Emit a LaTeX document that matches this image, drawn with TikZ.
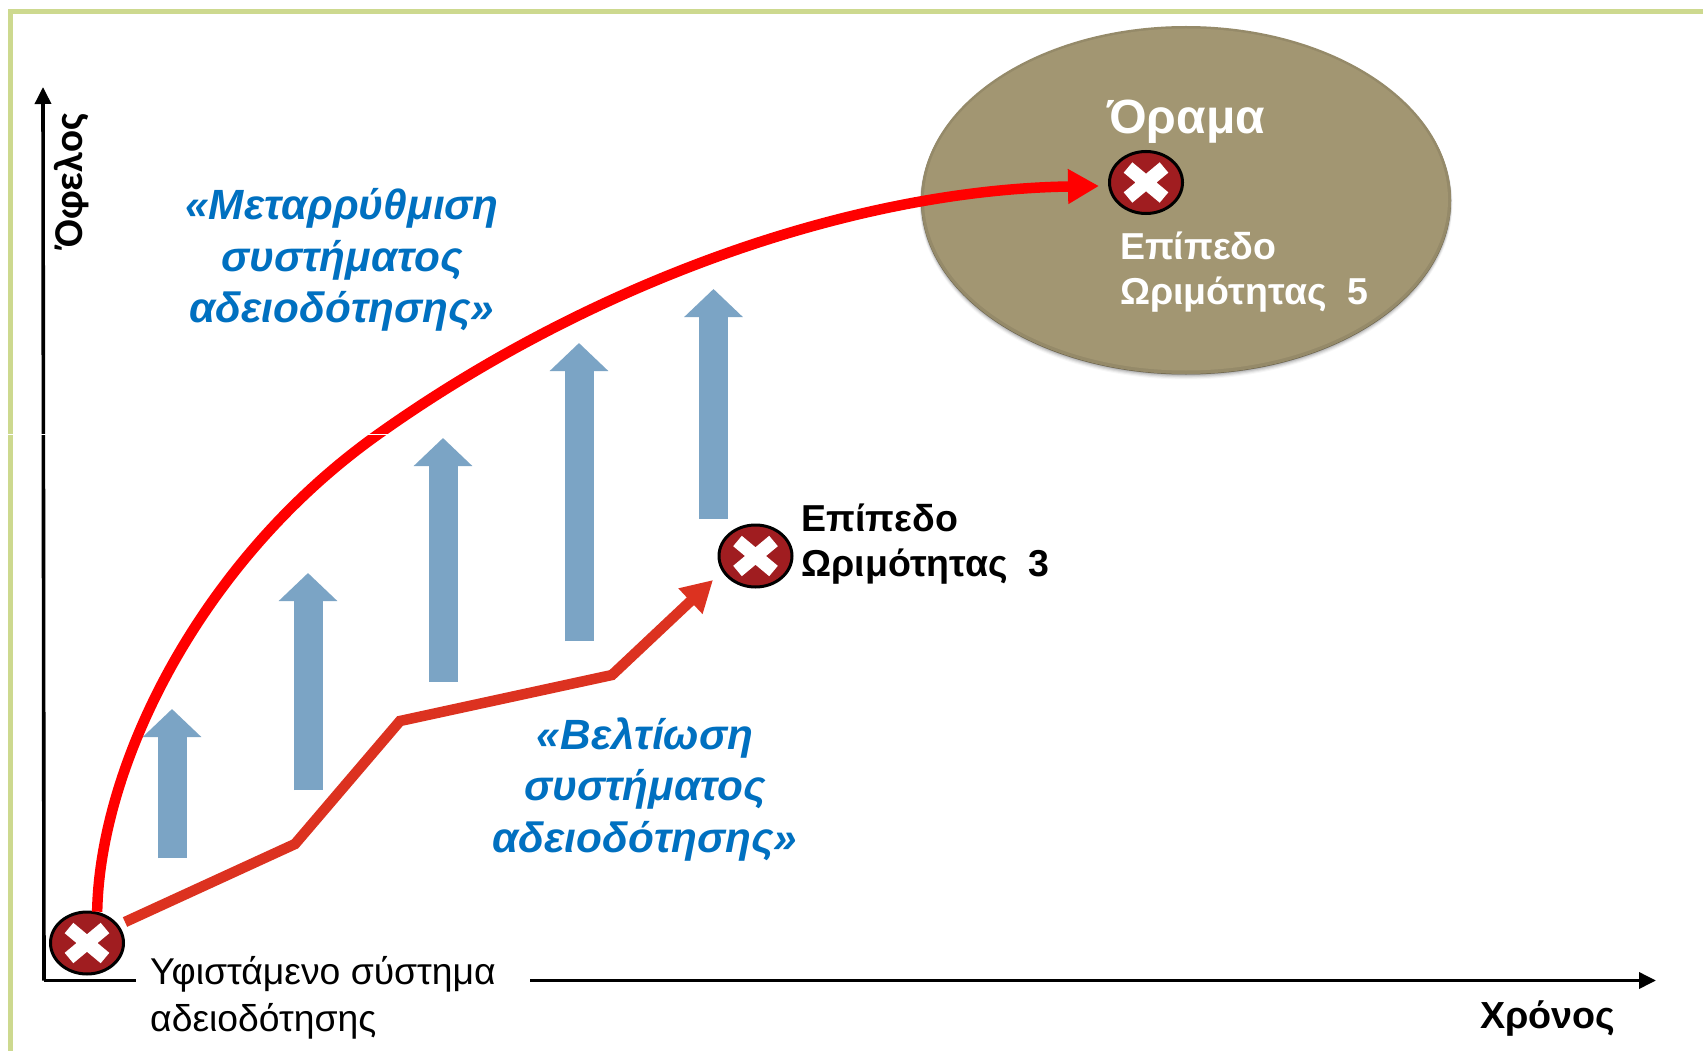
\documentclass[tikz,border=0pt]{standalone}
\usepackage{fontspec}
\setmainfont{Liberation Sans}
\newfontfamily\carlitofont{Carlito}
\usetikzlibrary{shapes.geometric,arrows.meta}
\definecolor{framegreen}{HTML}{CDD98F}
\definecolor{blockblue}{HTML}{7BA4C5}
\definecolor{textblue}{HTML}{0070C0}
\definecolor{curvered}{HTML}{FF0000}
\definecolor{lineorange}{HTML}{DC3220}
\definecolor{markred}{HTML}{A01D20}
\definecolor{visionfill}{HTML}{A29672}
\tikzset{
  x=1pt,y=-1pt,
  xmark/.style={ellipse,draw=black,line width=3pt,fill=markred,minimum width=73pt,minimum height=62pt,inner sep=0pt,
    path picture={
      \draw[white,line width=13.5pt,shift={(path picture bounding box.center)}] (-18,-15)--(18,15) (-18,15)--(18,-15);
    }},
  blockarrow/.style={blockblue,line width=29pt,-{Triangle[length=28pt,width=57pt]}},
  axisline/.style={black,line width=3.6pt},
  axishead/.style={-{Triangle[length=17pt,width=16pt]}},
  bluelabel/.style={text=textblue,align=center,inner sep=0pt,font=\bfseries\itshape\fontsize{42.3}{51.5}\selectfont},
  boldlabel/.style={align=left,inner sep=0pt,anchor=west,font=\bfseries\fontsize{37.5}{45.5}\selectfont},
  plainlabel/.style={align=left,inner sep=0pt,anchor=west,font=\fontsize{37.3}{47}\selectfont},
}
\begin{document}
\begin{tikzpicture}
\useasboundingbox (0,0) rectangle (1703,1051);
\fill[white] (0,0) rectangle (1703,1051);
% frame
\draw[framegreen,line width=5.5pt] (10.5,1051) -- (10.5,11.5) -- (1703,11.5);
% vision ellipse with soft shadow and bevel
\foreach \g/\o in {5/0.03,4/0.05,3/0.07,2/0.09,1/0.12}{
  \fill[black,opacity=\o] (1186,200.5+\g*0.7) ellipse [x radius=264.5+\g*0.4,y radius=173.5+\g*0.4];
}
\fill[visionfill!65!black] (1186,201) ellipse [x radius=265,y radius=173.5];
\fill[visionfill!92!black] (1186,200) ellipse [x radius=265,y radius=174];
\fill[visionfill] (1186,199.5) ellipse [x radius=262,y radius=171];
% block arrows
\coordinate (a1b) at (172,858); \coordinate (a1t) at (172,709);
\coordinate (a2b) at (308,790);   \coordinate (a2t) at (308,573);
\coordinate (a3b) at (443,681.5);   \coordinate (a3t) at (443,438);
\coordinate (a4b) at (579,641);   \coordinate (a4t) at (579,343);
\coordinate (a5b) at (713.5,518.5); \coordinate (a5t) at (713.5,289);
\foreach \i in {1,...,5}{\draw[blockarrow] (a\i b) -- (a\i t);}
% axes
\coordinate (orig) at (44,980.5);
\coordinate (ytop) at (43,87);
\coordinate (xa) at (136,980.5);
\coordinate (xb) at (530,980.5);
\coordinate (xtip) at (1656,980.5);
\draw[axisline,axishead] (orig) -- (ytop);
\draw[axisline] (orig) -- (xa);
\draw[axisline,axishead] (xb) -- (xtip);
% marks
\node[xmark] (c1) at (87,943) {};
\node[xmark] (c3) at (755.5,556) {};
\node[xmark] (c5) at (1146,182.5) {};
% connectors
\coordinate (rmid) at (380,433);
\coordinate (rtip) at (1099,186);
\draw[curvered,line width=10.5pt,-{Triangle[length=31pt,width=33pt]}]
  (c1.72) .. controls (100,765) and (200,560) .. (rmid)
  .. controls (590,284) and (850,190) .. (rtip);
\coordinate (l0) at (125,922);
\coordinate (l1) at (295,844);
\coordinate (l2) at (400,721);
\coordinate (l3) at (612,675);
\coordinate (ltip) at (713,580);
\draw[lineorange,line width=10.5pt,-{Triangle[length=31pt,width=33pt]}]
  (l0) -- (l1) -- (l2) -- (l3) -- (ltip);
% seam
\draw[white,line width=0.8pt] (0,434) -- (395,434);
% labels
\node[bluelabel] (t1) at (342,260) {«Μεταρρύθμιση\\συστήματος\\αδειοδότησης»};
\node[bluelabel] (t2) at (645,789.5) {«Βελτίωση\\συστήματος\\αδειοδότησης»};
\node[boldlabel] (t3) at (801.5,544) {Επίπεδο\\Ωριμότητας\ \ 3};
\node[boldlabel,text=white] (t5) at (1120,272) {Επίπεδο\\Ωριμότητας\ \ 5};
\node[inner sep=0pt,text=white,font=\bfseries\fontsize{48}{50}\selectfont] (t6) at (1186,122) {Όραμα};
\node[plainlabel] (t0) at (150,997.5) {Υφιστάμενο σύστημα\\αδειοδότησης};
\node[inner sep=0pt,anchor=base west,font=\bfseries\fontsize{37.7}{40}\selectfont] (tx) at (1480,1028) {Χρόνος};
\node[inner sep=0pt,rotate=90,font=\carlitofont\bfseries\fontsize{41}{44}\selectfont] (ty) at (72,181) {Όφελος};
\end{tikzpicture}
\end{document}
